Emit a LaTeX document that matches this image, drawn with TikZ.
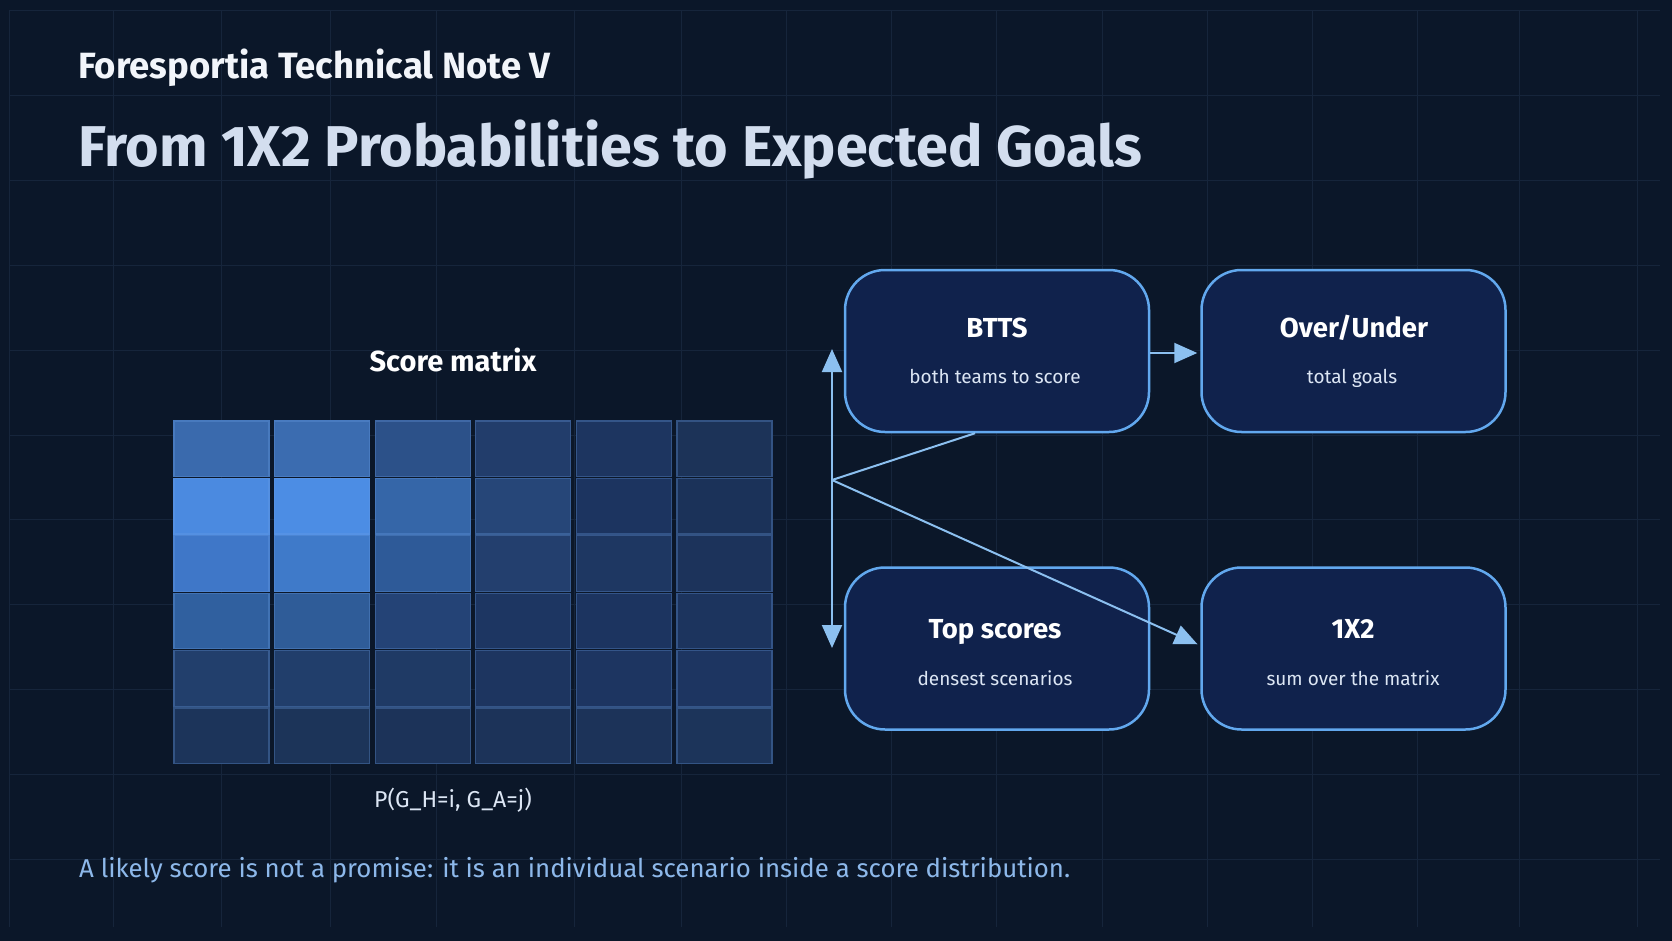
\documentclass[tikz,border=0pt]{standalone}
\usepackage{fontspec}
\setmainfont{Fira Sans}
\usetikzlibrary{arrows.meta,calc}
\definecolor{bg}{HTML}{0B1729}
\definecolor{gridc}{HTML}{16253B}
\definecolor{titlec}{HTML}{D3DEEF}
\definecolor{subc}{HTML}{F2F5FA}
\definecolor{footc}{HTML}{8DB8EA}
\definecolor{boxfill}{HTML}{10224C}
\definecolor{boxedge}{HTML}{62A8EE}
\definecolor{arrowc}{HTML}{8CC0F0}
\definecolor{celledge}{HTML}{6A9FE6}
\definecolor{boxsub}{HTML}{DCE6F4}
\tikzset{
  cellbox/.style={draw=#1!70!celledge, fill=#1, line width=1.2pt, minimum width=95pt, minimum height=55.5pt, inner sep=0pt},
  mbox/.style={draw=boxedge, fill=boxfill, line width=2.5pt, rounded corners=40pt, minimum width=304pt, minimum height=162pt},
  boxtitle/.style={text=white, anchor=base, inner sep=0pt, font=\bfseries\fontsize{27.5}{31}\selectfont},
  boxsubtext/.style={text=boxsub, anchor=base, inner sep=0pt, font=\fontsize{19}{22}\selectfont},
  conn/.style={draw=arrowc, line width=2pt},
  tip/.style={-{Triangle[length=23pt,width=20pt]}}
}
\begin{document}
\begin{tikzpicture}[x=1pt,y=-1pt]
\fill[bg] (0,0) rectangle (1672,941);
\useasboundingbox (0,0) rectangle (1672,941);
% grid
\foreach \gx in {9,113,221,330,436,574,681,786,891,996,1102,1207,1312,1417,1519,1637}
  \draw[gridc, line width=1pt] (\gx,11) -- (\gx,927);
\foreach \gy in {11,95.8,180.6,265.4,350.2,435,519.8,604.6,689.4,774.2,859}
  \draw[gridc, line width=1pt] (9,\gy) -- (1660,\gy);
% texts
\node[anchor=base west, inner sep=0pt, text=subc, font=\bfseries\fontsize{36.5}{42}\selectfont] (sub) at (78,79) {Foresportia Technical Note V};
\node[anchor=base west, inner sep=0pt, text=titlec, font=\bfseries\fontsize{57.5}{66}\selectfont] (title) at (78,167) {From 1X2 Probabilities to Expected Goals};
\node[text=white, font=\bfseries\fontsize{29}{34}\selectfont] (smlabel) at (453,360) {Score matrix};
\node[text=boxsub, font=\fontsize{23}{27}\selectfont] (plabel) at (453,800) {P(G\_H=i, G\_A=j)};
\node[anchor=base west, inner sep=0pt, text=footc, font=\fontsize{25.8}{31}\selectfont] (foot) at (79,877) {A likely score is not a promise: it is an individual scenario inside a score distribution.};
% matrix
\definecolor{m11}{HTML}{3A6AAD}\definecolor{m12}{HTML}{3B6CB0}\definecolor{m13}{HTML}{2C5189}\definecolor{m14}{HTML}{223D6B}\definecolor{m15}{HTML}{1D3560}\definecolor{m16}{HTML}{1C3358}
\definecolor{m21}{HTML}{4B8AE0}\definecolor{m22}{HTML}{4C8DE4}\definecolor{m23}{HTML}{3566A8}\definecolor{m24}{HTML}{264678}\definecolor{m25}{HTML}{1C3460}\definecolor{m26}{HTML}{1B3259}
\definecolor{m31}{HTML}{3F77C8}\definecolor{m32}{HTML}{3F7AC9}\definecolor{m33}{HTML}{2E5A98}\definecolor{m34}{HTML}{233F6E}\definecolor{m35}{HTML}{1E3762}\definecolor{m36}{HTML}{1C335B}
\definecolor{m41}{HTML}{30609F}\definecolor{m42}{HTML}{2F5C98}\definecolor{m43}{HTML}{244376}\definecolor{m44}{HTML}{1D3662}\definecolor{m45}{HTML}{1C3460}\definecolor{m46}{HTML}{1C345E}
\definecolor{m51}{HTML}{223F6C}\definecolor{m52}{HTML}{213E6B}\definecolor{m53}{HTML}{1F3A65}\definecolor{m54}{HTML}{1D3560}\definecolor{m55}{HTML}{1D3561}\definecolor{m56}{HTML}{1D3561}
\definecolor{m61}{HTML}{1C345A}\definecolor{m62}{HTML}{1C3459}\definecolor{m63}{HTML}{1C3359}\definecolor{m64}{HTML}{1C3359}\definecolor{m65}{HTML}{1C3359}\definecolor{m66}{HTML}{1C345A}
\foreach \r in {1,...,6}
  \foreach \c in {1,...,6}
    \node[cellbox=m\r\c] (cell-\r-\c) at ({174+47.5+(\c-1)*100.6},{421+27.75+(\r-1)*57.4}) {};
% boxes
\node[mbox] (btts) at (997,351) {};
\node[mbox] (ou) at (1353.5,351) {};
\node[mbox] (top) at (997,648.5) {};
\node[mbox] (x12) at (1353.5,648.5) {};
\node[boxtitle] (bttsT) at (997,337) {BTTS};
\node[boxsubtext] (bttsS) at (995,383) {both teams to score};
\node[boxtitle] (ouT) at (1354,337) {Over/Under};
\node[boxsubtext] (ouS) at (1352,383) {total goals};
\node[boxtitle] (topT) at (995,638) {Top scores};
\node[boxsubtext] (topS) at (995,685) {densest scenarios};
\node[boxtitle] (x12T) at (1353,638) {1X2};
\node[boxsubtext] (x12S) at (1353,685) {sum over the matrix};
% connectors
\coordinate (hub) at (832,480);
\coordinate (uptip) at (832,349);
\coordinate (downtip) at (832,648);
\draw[conn, tip] (hub) -- (uptip);
\draw[conn, tip] (hub) -- (downtip);
\draw[conn] (hub) -- ($(btts.south)+(-22,0)$);
\draw[conn, tip, shorten >=3pt] (hub) -- ($(x12.west)+(0,-3)$);
\draw[conn, tip, shorten >=3pt] ($(btts.east)+(0,2)$) -- ($(ou.west)+(0,2)$);
\end{tikzpicture}
\end{document}
